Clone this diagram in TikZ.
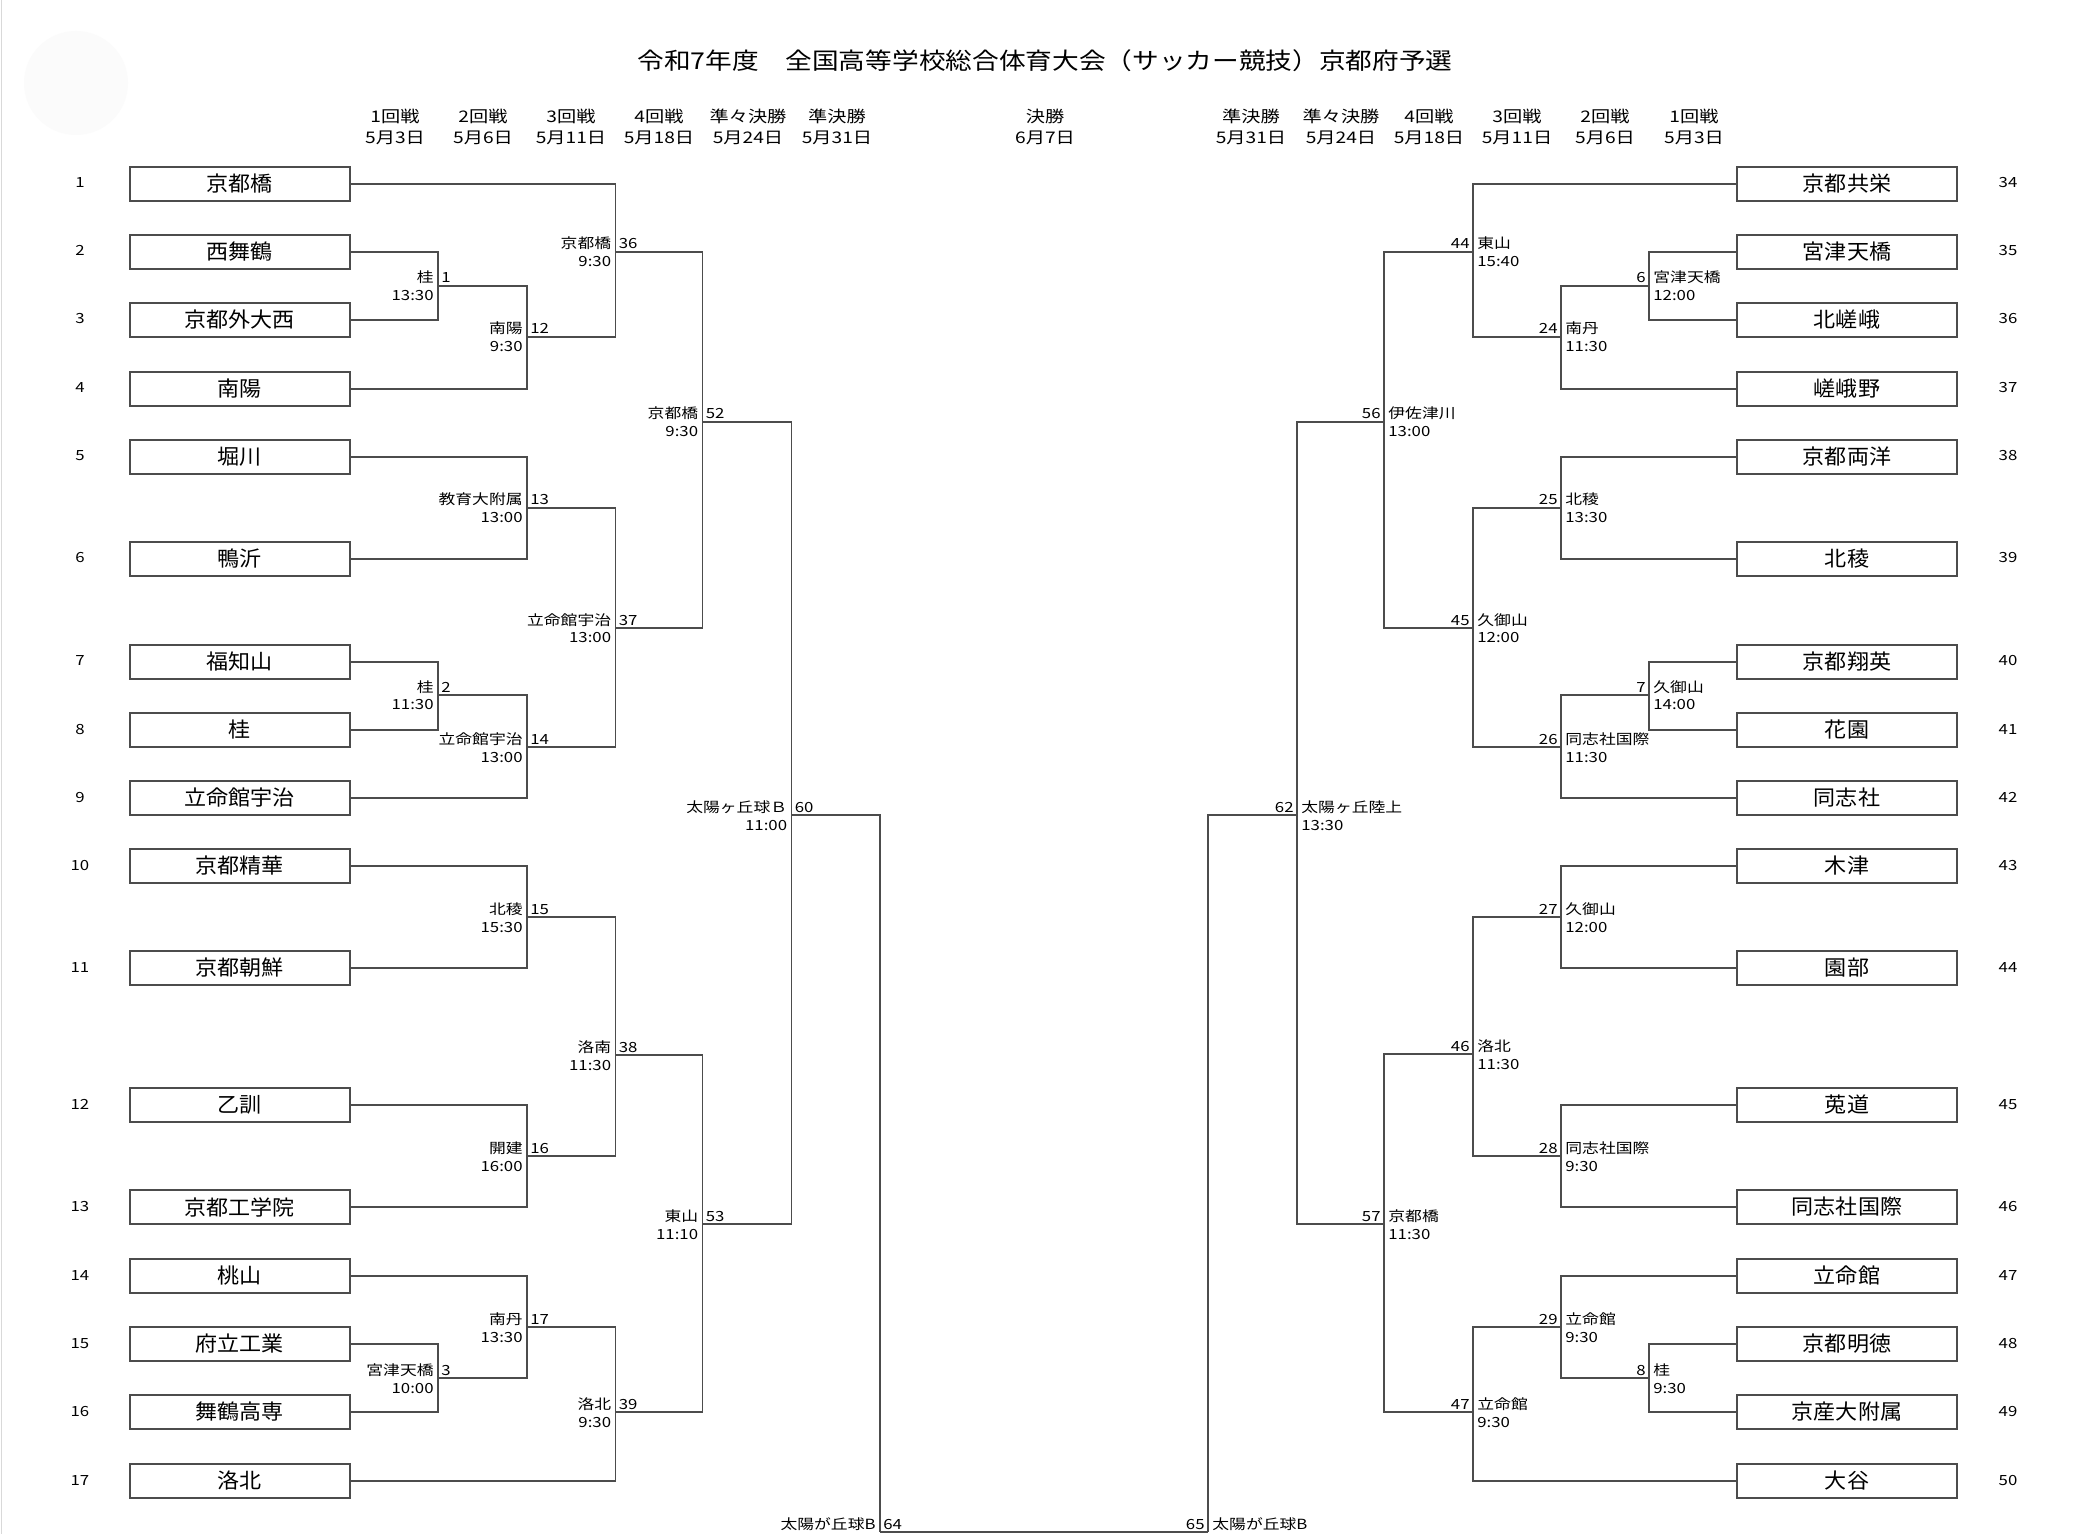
\documentclass[tikz,border=0pt]{standalone}
\usepackage{fontspec}
\newfontfamily\boxfam[FakeStretch=1.05]{Noto Sans CJK JP}
\newfontfamily\labfam[FakeStretch=1.2]{Noto Sans CJK JP}
\newfontfamily\ttlfam[FakeStretch=1.15]{Noto Sans CJK JP}
\usetikzlibrary{calc}
\tikzset{
  team/.style={draw=black!70, line width=1pt, minimum width=110.25pt, minimum height=17pt, inner sep=0pt, font=\boxfam\fontsize{10.5}{12}\selectfont},
  conn/.style={draw=black!70, line width=0.8pt},
  lab/.style={inner sep=0pt, font=\labfam\fontsize{7}{8}\selectfont},
  hdr/.style={inner sep=0pt, anchor=base, font=\labfam\fontsize{8}{9}\selectfont},
  sidenum/.style={inner sep=0pt, anchor=base, font=\labfam\fontsize{7}{8}\selectfont},
  ttl/.style={inner sep=0pt, anchor=base, font=\ttlfam\fontsize{11.6}{14}\selectfont}
}
% left-side match: id, x, y, winner, number, time
\newcommand\lmatch[6]{%
  \coordinate (#1) at (#2,#3);
  \node[lab,anchor=base east,xshift=-2pt,yshift=1.5pt] (#1n) at (#1) {#4};
  \node[lab,anchor=base west,xshift=1.5pt,yshift=1.5pt] (#1k) at (#1) {#5};
  \node[lab,anchor=base east,xshift=-2pt,yshift=-7.5pt] (#1t) at (#1) {#6};}
% right-side match
\newcommand\rmatch[6]{%
  \coordinate (#1) at (#2,#3);
  \node[lab,anchor=base west,xshift=2pt,yshift=1.5pt] (#1n) at (#1) {#4};
  \node[lab,anchor=base east,xshift=-1.5pt,yshift=1.5pt] (#1k) at (#1) {#5};
  \node[lab,anchor=base west,xshift=2pt,yshift=-7.5pt] (#1t) at (#1) {#6};}
\newcommand\lteam[3]{%
  \node[team] (L#1) at (239.75,#2) {#3};
  \node[sidenum] (nL#1) at (80,#2+4) {#1};}
\newcommand\rteam[3]{%
  \node[team] (R#1) at (1847,#2) {#3};
  \node[sidenum] (nR#1) at (2008,#2+4) {#1};}
\newcommand\hdrpair[4]{%
  \node[hdr] (#1a) at (#2,123) {#3};
  \node[hdr] (#1b) at (#2,144) {#4};}
\begin{document}
\begin{tikzpicture}[x=0.5pt,y=-0.5pt]
\useasboundingbox (0,0) rectangle (2083,1534);
\fill[white] (0,0) rectangle (2083,1534);
\fill[black!1.5] (76,83) circle (52);
\draw[black!15, line width=0.5pt] (1,0) -- (1,1534);

\node[ttl] (title) at (1045,70) {令和7年度　全国高等学校総合体育大会（サッカー競技）京都府予選};

\hdrpair{h1}{395}{1回戦}{5月3日}
\hdrpair{h2}{483}{2回戦}{5月6日}
\hdrpair{h3}{571}{3回戦}{5月11日}
\hdrpair{h4}{659}{4回戦}{5月18日}
\hdrpair{h5}{748}{準々決勝}{5月24日}
\hdrpair{h6}{837}{準決勝}{5月31日}
\hdrpair{hf}{1045}{決勝}{6月7日}
\hdrpair{k6}{1251}{準決勝}{5月31日}
\hdrpair{k5}{1341}{準々決勝}{5月24日}
\hdrpair{k4}{1429}{4回戦}{5月18日}
\hdrpair{k3}{1517}{3回戦}{5月11日}
\hdrpair{k2}{1605}{2回戦}{5月6日}
\hdrpair{k1}{1694}{1回戦}{5月3日}

% left teams
\lteam{1}{184}{京都橋}
\lteam{2}{252}{西舞鶴}
\lteam{3}{320}{京都外大西}
\lteam{4}{389}{南陽}
\lteam{5}{457}{堀川}
\lteam{6}{559}{鴨沂}
\lteam{7}{662}{福知山}
\lteam{8}{730}{桂}
\lteam{9}{798}{立命館宇治}
\lteam{10}{866}{京都精華}
\lteam{11}{968}{京都朝鮮}
\lteam{12}{1105}{乙訓}
\lteam{13}{1207}{京都工学院}
\lteam{14}{1276}{桃山}
\lteam{15}{1344}{府立工業}
\lteam{16}{1412}{舞鶴高専}
\lteam{17}{1481}{洛北}

% right teams
\rteam{34}{184}{京都共栄}
\rteam{35}{252}{宮津天橋}
\rteam{36}{320}{北嵯峨}
\rteam{37}{389}{嵯峨野}
\rteam{38}{457}{京都両洋}
\rteam{39}{559}{北稜}
\rteam{40}{662}{京都翔英}
\rteam{41}{730}{花園}
\rteam{42}{798}{同志社}
\rteam{43}{866}{木津}
\rteam{44}{968}{園部}
\rteam{45}{1105}{莵道}
\rteam{46}{1207}{同志社国際}
\rteam{47}{1276}{立命館}
\rteam{48}{1344}{京都明徳}
\rteam{49}{1412}{京産大附属}
\rteam{50}{1481}{大谷}

% left matches
\lmatch{m1}{438}{286}{桂}{1}{13:30}
\lmatch{m12}{527}{337}{南陽}{12}{9:30}
\lmatch{m36}{615.5}{252}{京都橋}{36}{9:30}
\lmatch{m13}{527}{508}{教育大附属}{13}{13:00}
\lmatch{m2}{438}{695}{桂}{2}{11:30}
\lmatch{m14}{527}{747}{立命館宇治}{14}{13:00}
\lmatch{m37}{615.5}{628}{立命館宇治}{37}{13:00}
\lmatch{m52}{702.5}{422}{京都橋}{52}{9:30}
\lmatch{m15}{527}{917}{北稜}{15}{15:30}
\lmatch{m16}{527}{1156}{開建}{16}{16:00}
\lmatch{m38}{615.5}{1055}{洛南}{38}{11:30}
\lmatch{m3}{438}{1378}{宮津天橋}{3}{10:00}
\lmatch{m17}{527}{1327}{南丹}{17}{13:30}
\lmatch{m39}{615.5}{1412}{洛北}{39}{9:30}
\lmatch{m53}{702.5}{1224}{東山}{53}{11:10}
\lmatch{m60}{791.5}{815}{太陽ヶ丘球Ｂ}{60}{11:00}
\coordinate (m64) at (880,1532);
\node[lab,anchor=base east,xshift=-2pt,yshift=1.5pt] (m64n) at (m64) {太陽が丘球B};
\node[lab,anchor=base west,xshift=1.5pt,yshift=1.5pt] (m64k) at (m64) {64};

% right matches
\rmatch{r6}{1649}{286}{宮津天橋}{6}{12:00}
\rmatch{r24}{1561}{337}{南丹}{24}{11:30}
\rmatch{r44}{1473}{252}{東山}{44}{15:40}
\rmatch{r25}{1561}{508}{北稜}{25}{13:30}
\rmatch{r7}{1649}{695}{久御山}{7}{14:00}
\rmatch{r26}{1561}{747}{同志社国際}{26}{11:30}
\rmatch{r45}{1473}{628}{久御山}{45}{12:00}
\rmatch{r56}{1384}{422}{伊佐津川}{56}{13:00}
\rmatch{r27}{1561}{917}{久御山}{27}{12:00}
\rmatch{r28}{1561}{1156}{同志社国際}{28}{9:30}
\rmatch{r46}{1473}{1054}{洛北}{46}{11:30}
\rmatch{r8}{1649}{1378}{桂}{8}{9:30}
\rmatch{r29}{1561}{1327}{立命館}{29}{9:30}
\rmatch{r47}{1473}{1412}{立命館}{47}{9:30}
\rmatch{r57}{1384}{1224}{京都橋}{57}{11:30}
\rmatch{r62}{1297}{815}{太陽ヶ丘陸上}{62}{13:30}
\coordinate (r65) at (1208,1532);
\node[lab,anchor=base west,xshift=2pt,yshift=1.5pt] (r65n) at (r65) {太陽が丘球B};
\node[lab,anchor=base east,xshift=-1.5pt,yshift=1.5pt] (r65k) at (r65) {65};

% left connectors
\draw[conn] (L2.east) -| (m1);  \draw[conn] (L3.east) -| (m1);
\draw[conn] (m1) -| (m12);      \draw[conn] (L4.east) -| (m12);
\draw[conn] (L1.east) -| (m36); \draw[conn] (m12) -| (m36);
\draw[conn] (L5.east) -| (m13); \draw[conn] (L6.east) -| (m13);
\draw[conn] (L7.east) -| (m2);  \draw[conn] (L8.east) -| (m2);
\draw[conn] (m2) -| (m14);      \draw[conn] (L9.east) -| (m14);
\draw[conn] (m13) -| (m37);     \draw[conn] (m14) -| (m37);
\draw[conn] (m36) -| (m52);     \draw[conn] (m37) -| (m52);
\draw[conn] (L10.east) -| (m15); \draw[conn] (L11.east) -| (m15);
\draw[conn] (L12.east) -| (m16); \draw[conn] (L13.east) -| (m16);
\draw[conn] (m15) -| (m38);     \draw[conn] (m16) -| (m38);
\draw[conn] (L15.east) -| (m3); \draw[conn] (L16.east) -| (m3);
\draw[conn] (L14.east) -| (m17); \draw[conn] (m3) -| (m17);
\draw[conn] (m17) -| (m39);     \draw[conn] (L17.east) -| (m39);
\draw[conn] (m38) -| (m53);     \draw[conn] (m39) -| (m53);
\draw[conn] (m52) -| (m60);     \draw[conn] (m53) -| (m60);
\draw[conn] (m60) -| (m64);
\draw[conn] (m64) -- (r65);

% right connectors
\draw[conn] (R35.west) -| (r6);  \draw[conn] (R36.west) -| (r6);
\draw[conn] (r6) -| (r24);       \draw[conn] (R37.west) -| (r24);
\draw[conn] (R34.west) -| (r44); \draw[conn] (r24) -| (r44);
\draw[conn] (R38.west) -| (r25); \draw[conn] (R39.west) -| (r25);
\draw[conn] (R40.west) -| (r7);  \draw[conn] (R41.west) -| (r7);
\draw[conn] (r7) -| (r26);       \draw[conn] (R42.west) -| (r26);
\draw[conn] (r25) -| (r45);      \draw[conn] (r26) -| (r45);
\draw[conn] (r44) -| (r56);      \draw[conn] (r45) -| (r56);
\draw[conn] (R43.west) -| (r27); \draw[conn] (R44.west) -| (r27);
\draw[conn] (R45.west) -| (r28); \draw[conn] (R46.west) -| (r28);
\draw[conn] (r27) -| (r46);      \draw[conn] (r28) -| (r46);
\draw[conn] (R48.west) -| (r8);  \draw[conn] (R49.west) -| (r8);
\draw[conn] (r8) -| (r29);       \draw[conn] (R47.west) -| (r29);
\draw[conn] (r29) -| (r47);      \draw[conn] (R50.west) -| (r47);
\draw[conn] (r46) -| (r57);      \draw[conn] (r47) -| (r57);
\draw[conn] (r56) -| (r62);      \draw[conn] (r57) -| (r62);
\draw[conn] (r62) -| (r65);
\end{tikzpicture}
\end{document}
